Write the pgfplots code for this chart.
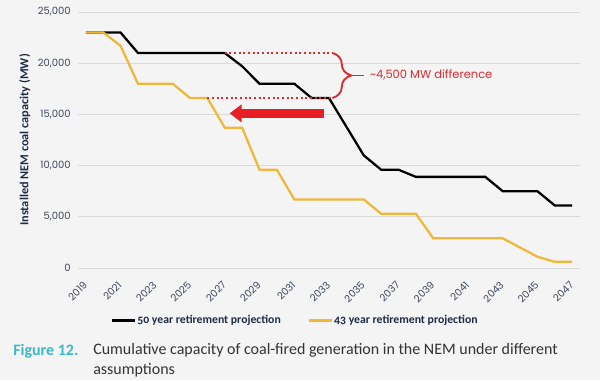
\documentclass[border=0pt]{standalone}
\usepackage{pgfplots}
\pgfplotsset{compat=1.18}
\usepackage{fontspec}
\setmainfont{Carlito}
\newfontfamily\pop{Poppins}
\newfontfamily\carold[Numbers=OldStyle]{Carlito}
\usetikzlibrary{decorations.pathreplacing,arrows.meta}
\definecolor{bg}{HTML}{F4F4F4}
\definecolor{gold}{HTML}{F0B83A}
\definecolor{gridc}{HTML}{D9D9D9}
\definecolor{tickc}{HTML}{3E4659}
\definecolor{navy}{HTML}{1E2B47}
\definecolor{anno}{HTML}{DD2A30}
\definecolor{arr}{HTML}{E81E25}
\definecolor{tealc}{HTML}{3FB8C2}
\definecolor{capc}{HTML}{333333}
\begin{document}
\begin{tikzpicture}
\fill[bg] (0,0) rectangle (450pt,285pt);
\begin{axis}[
  at={(58.5pt,84pt)}, anchor=south west,
  scale only axis, width=376.5pt, height=192pt,
  xmin=2018.55, xmax=2047.45, ymin=0, ymax=25000,
  clip=false,
  axis line style={draw=none},
  major tick length=0pt,
  ymajorgrids, grid style={gridc, line width=0.75pt},
  xtick={2019,2021,...,2047},
  ytick={0,5000,...,25000},
  scaled y ticks=false,
  /pgf/number format/assume math mode=true,
  ticklabel style={font=\pop\fontsize{7.5}{9}\selectfont, text=tickc},
  yticklabel style={/pgf/number format/1000 sep={,}, xshift=-2pt},
  xticklabel style={/pgf/number format/1000 sep={}, yshift=-9pt, xshift=2pt, rotate=45, anchor=east},
  ylabel={Installed NEM coal capacity (MW)},
  every axis y label/.style={at={(axis description cs:-0.106,0.5)}, rotate=90, anchor=center,
     font=\bfseries\fontsize{9.2}{11}\selectfont, text=navy},
  legend columns=2,
  legend style={at={(axis description cs:0.432,-0.205)}, anchor=center, draw=none, fill=none,
    font=\carold\bfseries\fontsize{8.8}{10}\selectfont, text=navy,
    /tikz/every even column/.append style={column sep=19pt},
    nodes={inner xsep=1pt}},
  legend cell align=left,
  legend image code/.code={\draw[#1, line width=2pt] (0pt,0pt) -- (17pt,0pt);},
]
\addplot[black, line width=1.7pt] coordinates {
(2019,23000) (2020,23000) (2021,23000) (2022,21000) (2023,21000) (2024,21000)
(2025,21000) (2026,21000) (2027,21000) (2028,19700) (2029,18000) (2030,18000)
(2031,18000) (2032,16600) (2033,16600) (2034,13800) (2035,11000) (2036,9600)
(2037,9600) (2038,8900) (2039,8900) (2040,8900) (2041,8900) (2042,8900)
(2043,7500) (2044,7500) (2045,7500) (2046,6100) (2047,6100)};
\addlegendentry{50 year retirement projection}
\addplot[gold, line width=1.7pt] coordinates {
(2019,23000) (2020,23000) (2021,21700) (2022,18000) (2023,18000) (2024,18000)
(2025,16600) (2026,16600) (2027,13700) (2028,13700) (2029,9600) (2030,9600)
(2031,6700) (2032,6700) (2033,6700) (2034,6700) (2035,6700) (2036,5300)
(2037,5300) (2038,5300) (2039,2900) (2040,2900) (2041,2900) (2042,2900)
(2043,2900) (2044,2000) (2045,1100) (2046,600) (2047,600)};
\addlegendentry{43 year retirement projection}
% annotations
\draw[anno, line width=1.5pt, dotted] (axis cs:2027,21000) -- (axis cs:2033.2,21000);
\draw[anno, line width=1.5pt, dotted] (axis cs:2026,16600) -- (axis cs:2033.2,16600);
\draw[anno, line width=1.4pt, decorate, decoration={brace, amplitude=14pt}]
  (axis cs:2033.2,21000) -- (axis cs:2033.2,16600);
\draw[anno, line width=1.4pt] (axis cs:2034.2,18800) -- (axis cs:2035.0,18800);
\node[anchor=west, text=anno, font=\pop\fontsize{8.6}{10}\selectfont, inner sep=0pt]
  at (axis cs:2035.35,18850) {\textasciitilde4,500 MW difference};
\draw[arr, line width=6.5pt, -{Triangle[length=9pt, width=13pt]}]
  (axis cs:2032.74,15100) -- (axis cs:2027.28,15100);
\end{axis}
\node[anchor=west, text=tealc, font=\bfseries\fontsize{12}{15}\selectfont, inner sep=0pt] at (9.75pt,21.5pt) {Figure 12.};
\node[anchor=north west, text=capc, font=\fontsize{12}{15}\selectfont, inner sep=0pt, align=left] at (69.75pt,27.5pt)
  {Cumulative capacity of coal-fired generation in the NEM under different\\assumptions};
\pgfresetboundingbox
\path[use as bounding box] (0,0) rectangle (450pt,285pt);
\end{tikzpicture}
\end{document}
